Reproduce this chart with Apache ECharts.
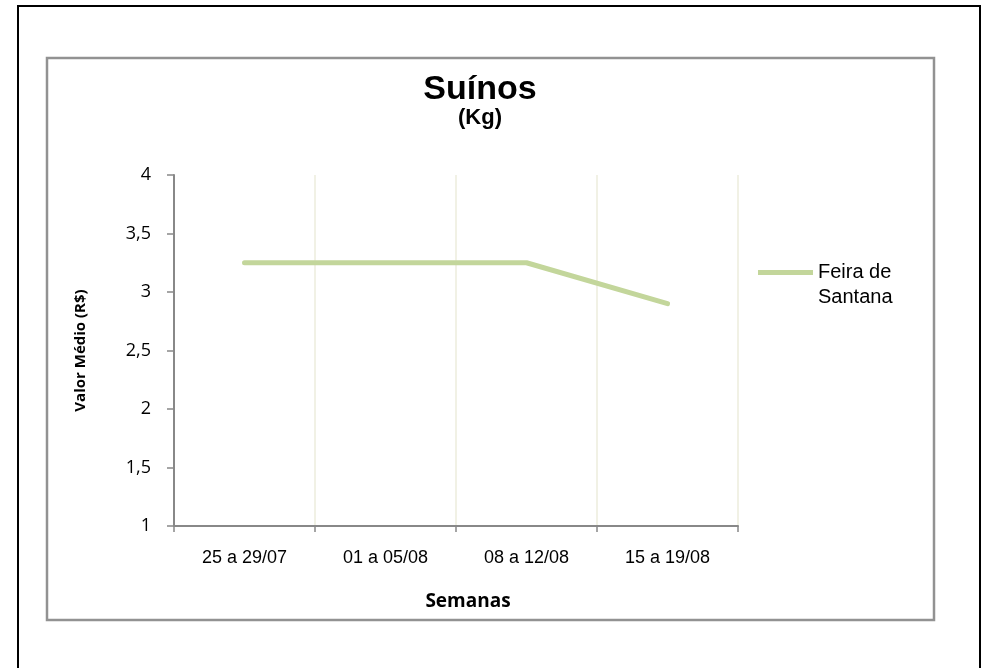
<!DOCTYPE html>
<html>
<head>
<meta charset="utf-8">
<script src="https://cdn.jsdelivr.net/npm/echarts@6/dist/echarts.min.js"></script>
<style>
html,body{margin:0;padding:0;background:#fff;}
#chart{width:987px;height:668px;}
</style>
</head>
<body>
<div id="chart"></div>
<script>
const categories = ['25 a 29/07', '01 a 05/08', '08 a 12/08', '15 a 19/08'];
const seriesName = 'Feira de Santana';
const values = [3.25, 3.25, 3.25, 2.9];
const yMin = 1, yMax = 4, yStep = 0.5;

const chart = echarts.init(document.getElementById('chart'), null, {renderer: 'canvas'});
chart.setOption({
  backgroundColor: '#fff',
  animation: false,
  title: {
    text: 'Suínos',
    subtext: '(Kg)',
    left: 475,
    textAlign: 'center',
    top: 68,
    itemGap: 0,
    textStyle: {fontFamily: 'Liberation Sans, Arial', fontWeight: 'bold', fontSize: 34, color: '#000'},
    subtextStyle: {fontFamily: 'Liberation Sans, Arial', fontWeight: 'bold', fontSize: 22, color: '#000'}
  },
  graphic: [
    {type: 'rect', shape: {x: 18, y: 6, width: 962, height: 670}, style: {fill: 'none', stroke: '#000', lineWidth: 2}, silent: true, z: -1},
    {type: 'rect', shape: {x: 47, y: 58, width: 887, height: 562}, style: {fill: 'none', stroke: '#929292', lineWidth: 2.5}, silent: true, z: -1}
  ],
  legend: {
    left: 758,
    top: 260,
    padding: 0,
    orient: 'vertical',
    itemWidth: 55,
    itemHeight: 30,
    icon: 'path://M0,0h55v5h-55z M0,29.9h0.1v0.1h-0.1z',
    formatter: function () { return 'Feira de\nSantana'; },
    textStyle: {fontFamily: 'Liberation Sans, Arial', fontSize: 20, lineHeight: 25, color: '#000'},
    data: [{name: seriesName, itemStyle: {color: '#c3d69b'}}]
  },
  grid: {left: 174, right: 249, top: 175, bottom: 142, containLabel: false},
  xAxis: {
    type: 'category',
    data: categories,
    boundaryGap: true,
    name: 'Semanas',
    nameLocation: 'middle',
    nameGap: 66,
    nameTextStyle: {fontFamily: 'Open Sans', fontWeight: 'bold', fontSize: 19, color: '#000', padding: [0, 0, 0, 24]},
    axisLine: {show: true, lineStyle: {color: '#888', width: 2}},
    axisTick: {show: true, alignWithLabel: false, length: 6, lineStyle: {color: '#888', width: 1.5}},
    axisLabel: {margin: 23, fontFamily: 'Liberation Sans, Arial', fontSize: 18, color: '#000'},
    splitLine: {show: true, lineStyle: {color: '#ececdc', width: 1.5}}
  },
  yAxis: {
    type: 'value',
    min: yMin,
    max: yMax,
    interval: yStep,
    name: 'Valor Médio (R$)',
    nameLocation: 'middle',
    nameGap: 86,
    nameRotate: 90,
    nameTextStyle: {fontFamily: 'Open Sans', fontWeight: 'bold', fontSize: 15, color: '#000'},
    axisLine: {show: true, lineStyle: {color: '#888', width: 2}},
    axisTick: {show: true, length: 7, lineStyle: {color: '#888', width: 1.5}},
    axisLabel: {margin: 23, fontFamily: 'Open Sans', fontSize: 18, color: '#000',
      formatter: function (v) { return String(v).replace('.', ','); }},
    splitLine: {show: false}
  },
  series: [{
    name: seriesName,
    type: 'line',
    data: values,
    showSymbol: false,
    symbol: 'none',
    lineStyle: {color: '#c3d69b', width: 5, cap: 'round', join: 'round'},
    itemStyle: {color: '#c3d69b'}
  }]
});
</script>
</body>
</html>
